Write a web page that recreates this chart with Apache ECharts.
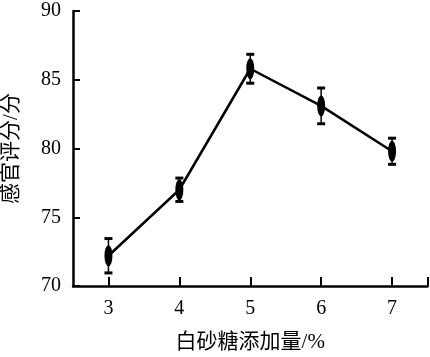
<!DOCTYPE html>
<html>
<head>
<meta charset="utf-8">
<script src="https://cdn.jsdelivr.net/npm/echarts@6/dist/echarts.min.js"></script>
<style>html,body{margin:0;padding:0;background:#fff}#c{width:430px;height:357px}</style>
</head>
<body>
<div id="c"></div>
<script>
var sugar = [3, 4, 5, 6, 7];
var scores = [72.2, 77.0, 85.8, 83.1, 79.8];
var errors = [1.25, 0.85, 1.05, 1.3, 0.95];
var xTicks = [3, 4, 5, 6, 7, 7.5];
var xLabels = [3, 4, 5, 6, 7];
var yTicks = [70, 75, 80, 85, 90];

var FONT = '"Liberation Serif", "Noto Sans CJK SC", serif';
var chart = echarts.init(document.getElementById('c'));
var lineData = sugar.map(function (x, i) { return [x, scores[i]]; });
var errData = sugar.map(function (x, i) { return [x, scores[i] - errors[i], scores[i] + errors[i]]; });

chart.setOption({
  animation: false,
  grid: { left: 73, right: 2.5, top: 11, bottom: 71, containLabel: false, outerBoundsMode: 'none' },
  xAxis: {
    type: 'value', min: 2.5, max: 7.5,
    name: '白砂糖添加量/%', nameLocation: 'middle', nameGap: 46,
    nameTextStyle: { fontFamily: FONT, fontSize: 21, color: '#000' },
    axisLine: { show: true, lineStyle: { color: '#000', width: 2.5 } },
    axisTick: { show: true, inside: true, length: 9, customValues: xTicks, lineStyle: { color: '#000', width: 2 } },
    axisLabel: { customValues: xLabels, fontFamily: FONT, fontSize: 20, color: '#000', margin: 13 },
    splitLine: { show: false }
  },
  yAxis: {
    type: 'value', min: 70, max: 90,
    name: '感官评分/分', nameLocation: 'middle', nameGap: 51,
    nameTextStyle: { fontFamily: FONT, fontSize: 21, color: '#000' },
    axisLine: { show: true, lineStyle: { color: '#000', width: 2.5 } },
    axisTick: { show: true, inside: true, length: 7, customValues: yTicks, lineStyle: { color: '#000', width: 2 } },
    axisLabel: { customValues: yTicks, fontFamily: FONT, fontSize: 20, color: '#000', margin: 12 },
    splitLine: { show: false }
  },
  series: [
    {
      type: 'line', data: lineData,
      lineStyle: { color: '#000', width: 2.5 },
      symbol: 'circle', symbolSize: [8, 21],
      itemStyle: { color: '#000' }
    },
    {
      type: 'custom', data: errData, z: 5,
      renderItem: function (params, api) {
        var x = api.value(0);
        var lo = api.coord([x, api.value(1)]);
        var hi = api.coord([x, api.value(2)]);
        var hw = 4;
        return {
          type: 'group',
          children: [
            { type: 'line', shape: { x1: lo[0], y1: lo[1], x2: hi[0], y2: hi[1] }, style: { stroke: '#000', lineWidth: 1.5 } },
            { type: 'line', shape: { x1: lo[0] - hw, y1: lo[1], x2: lo[0] + hw, y2: lo[1] }, style: { stroke: '#000', lineWidth: 3 } },
            { type: 'line', shape: { x1: hi[0] - hw, y1: hi[1], x2: hi[0] + hw, y2: hi[1] }, style: { stroke: '#000', lineWidth: 3 } }
          ]
        };
      }
    }
  ]
});
</script>
</body>
</html>
